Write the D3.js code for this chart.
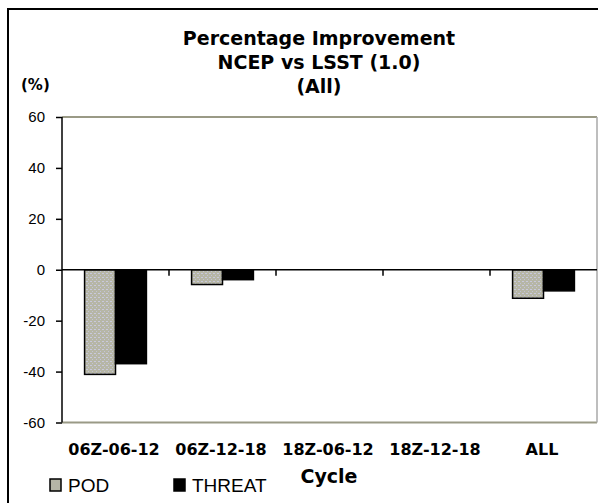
<!DOCTYPE html>
<html>
<head>
<meta charset="utf-8">
<script src="https://cdn.jsdelivr.net/npm/d3@7"></script>
<style>
  html, body { margin: 0; padding: 0; background: #fff; }
  svg { display: block; }
</style>
</head>
<body>
<svg id="chart" width="598" height="503"></svg>
<script>
// Forecast cycles and percentage improvement per score
const cycles = ["06Z-06-12", "06Z-12-18", "18Z-06-12", "18Z-12-18", "ALL"];
const podValues = [-41.1, -5.8, null, null, -11.2];
const threatValues = [-36.9, -3.9, null, null, -8.3];
const seriesNames = ["POD", "THREAT"];
const yTicks = [-60, -40, -20, 0, 20, 40, 60];
const titleLines = ["Percentage Improvement", "NCEP vs LSST (1.0)", "(All)"];

const svg = d3.select("#chart");
const boldFont = "'DejaVu Sans', Verdana, sans-serif";
const plainFont = "'Liberation Sans', Arial, sans-serif";

const plot = { left: 62, right: 597, top: 117, bottom: 422.5 };

// POD fill: grey-olive stipple
const defs = svg.append("defs");
const pat = defs.append("pattern")
  .attr("id", "podFill").attr("patternUnits", "userSpaceOnUse")
  .attr("width", 4).attr("height", 4);
pat.append("rect").attr("width", 4).attr("height", 4).attr("fill", "#b6b6a6");
pat.append("rect").attr("x", 0).attr("y", 1).attr("width", 2).attr("height", 1).attr("fill", "#c9c9dc");
pat.append("rect").attr("x", 2).attr("y", 3).attr("width", 1).attr("height", 1).attr("fill", "#c4c4d6");

// Outer chart border (runs off the right and bottom edges)
svg.append("rect")
  .attr("x", 8).attr("y", 9).attr("width", 640).attr("height", 540)
  .attr("fill", "none").attr("stroke", "#000").attr("stroke-width", 2);

const y = d3.scaleLinear().domain([-60, 60]).range([plot.bottom, plot.top]);
const x0 = d3.scaleBand().domain(cycles).range([plot.left, plot.right]).padding(0);
const x1 = d3.scaleBand().domain(seriesNames).range([0, x0.bandwidth()])
  .paddingInner(0).paddingOuter(0.73);

// Plot-area frame (top, right, bottom)
const frame = svg.append("g").attr("stroke", "#9a9a86").attr("fill", "none");
frame.append("line").attr("x1", plot.left).attr("x2", plot.right)
  .attr("y1", plot.top).attr("y2", plot.top).attr("stroke-width", 2);
frame.append("line").attr("x1", plot.left).attr("x2", plot.right)
  .attr("y1", plot.bottom).attr("y2", plot.bottom).attr("stroke-width", 2);
frame.append("line").attr("x1", plot.right).attr("x2", plot.right)
  .attr("y1", plot.top).attr("y2", plot.bottom).attr("stroke", "#a8a8a8").attr("stroke-width", 1.5);

// Bars
const rows = cycles.map((c, i) => ({ cycle: c, POD: podValues[i], THREAT: threatValues[i] }));
const fills = { POD: "url(#podFill)", THREAT: "#000" };
const groups = svg.append("g").selectAll("g").data(rows).join("g")
  .attr("transform", d => `translate(${x0(d.cycle)},0)`);
groups.selectAll("rect")
  .data(d => seriesNames.map(s => ({ key: s, value: d[s] })).filter(v => v.value != null))
  .join("rect")
  .attr("x", d => x1(d.key))
  .attr("width", x1.bandwidth())
  .attr("y", d => y(Math.max(0, d.value)))
  .attr("height", d => Math.abs(y(d.value) - y(0)))
  .attr("fill", d => fills[d.key])
  .attr("stroke", "#000").attr("stroke-width", 1.5);

// Y axis
const yAxis = svg.append("g")
  .attr("transform", `translate(${plot.left},0)`)
  .call(d3.axisLeft(y).tickValues(yTicks).tickSize(6).tickPadding(11).tickFormat(d3.format("d")));
yAxis.select(".domain").attr("stroke", "#000").attr("stroke-width", 1.5).attr("d", `M0,${plot.top}V${plot.bottom}`);
yAxis.selectAll(".tick line").attr("stroke", "#000").attr("stroke-width", 1.5);
yAxis.selectAll(".tick text")
  .attr("font-family", plainFont).attr("font-size", 15).attr("fill", "#000")
  .text(d => d < 0 ? "-" + Math.abs(d) : d);

// Zero line with category tick marks
const zeroAxis = svg.append("g")
  .attr("transform", `translate(0,${y(0)})`)
  .call(d3.axisBottom(x0).tickSize(0).tickFormat(""));
zeroAxis.select(".domain").attr("stroke", "#000").attr("stroke-width", 1.5)
  .attr("d", `M${plot.left},0H${plot.right}`);
zeroAxis.selectAll(".tick").remove();
zeroAxis.selectAll(".sep").data(cycles.slice(1)).join("line")
  .attr("class", "sep")
  .attr("x1", d => x0(d)).attr("x2", d => x0(d))
  .attr("y1", 0).attr("y2", 6)
  .attr("stroke", "#000").attr("stroke-width", 1.5);

// Category labels
svg.append("g").selectAll("text").data(cycles).join("text")
  .attr("x", d => x0(d) + x0.bandwidth() / 2 - 1.5)
  .attr("y", 455)
  .attr("text-anchor", "middle")
  .attr("font-family", boldFont).attr("font-weight", "bold").attr("font-size", 16)
  .text(d => d);

// Title
svg.append("g").selectAll("text").data(titleLines).join("text")
  .attr("x", 319)
  .attr("y", (d, i) => 45 + i * 24)
  .attr("text-anchor", "middle")
  .attr("font-family", boldFont).attr("font-weight", "bold").attr("font-size", 19)
  .text(d => d);

// Axis titles
svg.append("text").attr("x", 21).attr("y", 90)
  .attr("font-family", boldFont).attr("font-weight", "bold").attr("font-size", 15)
  .text("(%)");
svg.append("text").attr("x", 329).attr("y", 483)
  .attr("text-anchor", "middle")
  .attr("font-family", boldFont).attr("font-weight", "bold").attr("font-size", 19)
  .text("Cycle");

// Legend
const legendX = [50, 174];
const legend = svg.append("g").selectAll("g").data(seriesNames).join("g")
  .attr("transform", (d, i) => `translate(${legendX[i]},479)`);
legend.append("rect")
  .attr("width", 11).attr("height", 12)
  .attr("fill", d => d === "POD" ? "#b6b6a6" : "#000")
  .attr("stroke", "#000").attr("stroke-width", 1.5);
legend.append("text")
  .attr("x", 18).attr("y", 13)
  .attr("font-family", plainFont).attr("font-size", 19)
  .text(d => d);
</script>
</body>
</html>
